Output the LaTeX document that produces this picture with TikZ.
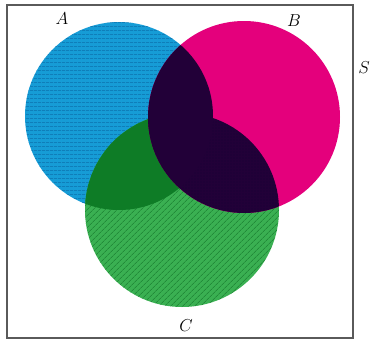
\documentclass[tikz,border=0pt]{standalone}
\usetikzlibrary{patterns.meta}
\definecolor{cblue}{RGB}{22,156,214}
\definecolor{cbluel}{RGB}{12,110,170}
\definecolor{cpink}{RGB}{228,0,124}
\definecolor{cdark}{RGB}{34,0,56}
\definecolor{cdgreen}{RGB}{14,124,38}
\definecolor{clgreen}{RGB}{58,176,82}
\definecolor{chatch}{RGB}{22,120,44}
\definecolor{cframe}{RGB}{90,90,90}
\begin{document}
\begin{tikzpicture}[x=1pt,y=-1pt,
  lbl/.style={font=\fontsize{17}{17}\selectfont}]
\useasboundingbox (0,0) rectangle (370,341);
\def\cA{(119,116) circle (94)}
\def\cB{(244,117) circle (96)}
\def\cC{(182,210) circle (97)}
% A
\fill[cblue] \cA;
\fill[pattern={Lines[angle=0,distance=4pt,line width=0.6pt]},pattern color=cbluel] \cA;
% C
\fill[clgreen] \cC;
\fill[pattern={Lines[angle=45,distance=4pt,line width=0.6pt]},pattern color=chatch] \cC;
% A cap C
\begin{scope}
  \clip \cA;
  \fill[cdgreen] \cC;
\end{scope}
% B
\fill[cpink] \cB;
% B cap C
\begin{scope}
  \clip \cB;
  \fill[cdark] \cC;
  \fill[pattern={Dots[distance=3pt,radius=0.35pt]},pattern color=black!80!blue] \cC;
\end{scope}
% A cap B
\begin{scope}
  \clip \cA;
  \fill[cdark] \cB;
\end{scope}
% frame
\draw[cframe,line width=2pt] (7,5) rectangle (353,338);
\node[lbl] (la) at (62,19) {$A$};
\node[lbl] (lb) at (294,21) {$B$};
\node[lbl] (ls) at (364,68) {$S$};
\node[lbl] (lc) at (186,326) {$C$};
\end{tikzpicture}
\end{document}
